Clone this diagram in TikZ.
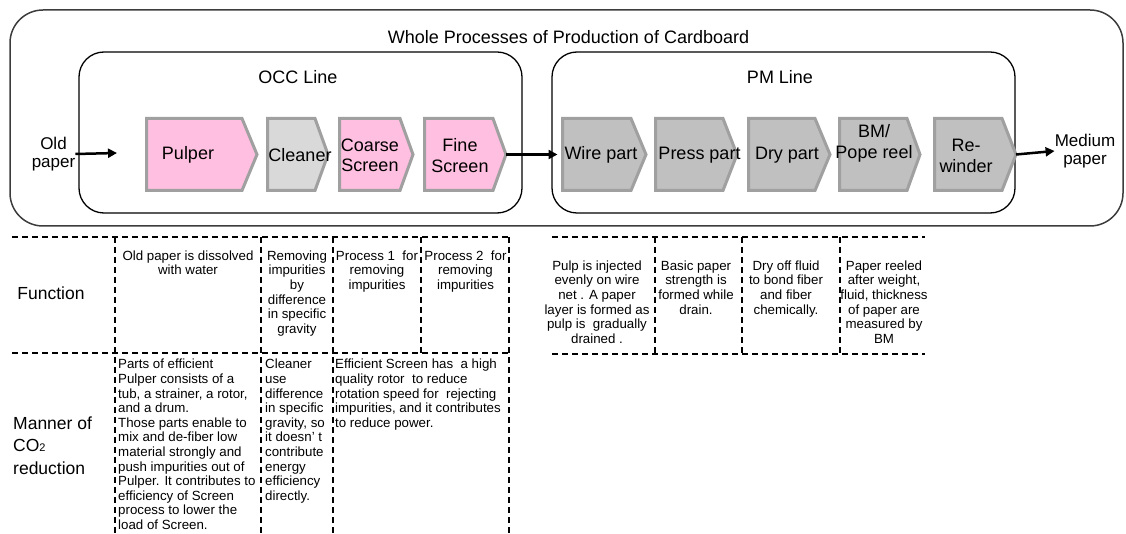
\documentclass[tikz,border=0pt]{standalone}
\usepackage{fontspec}
\setmainfont{Liberation Sans}
\usetikzlibrary{arrows.meta}
\definecolor{pinkf}{HTML}{FFBFE0}
\definecolor{lgrayf}{HTML}{D9D9D9}
\definecolor{dgrayf}{HTML}{C0C0C0}
\definecolor{bord}{HTML}{A0A0A0}
\definecolor{framec}{HTML}{3C3C3C}
% name, left, body right, tip, fill, label x, label y, label
\newcommand\chev[8]{%
  \draw[chevron,fill=#5] (#2,118.5) -- (#3,118.5) -- (#4,154.5) -- (#3,190.5) -- (#2,190.5) -- cycle;
  \coordinate (#1-l) at (#2,154.5);
  \coordinate (#1-t) at (#4,154.5);
  \node[lab] (#1) at (#6,#7) {#8};}
\begin{document}
\begin{tikzpicture}[x=1pt,y=-1pt,
  outerbox/.style={draw=framec,line width=1.5pt,rounded corners=33pt},
  linebox/.style={draw=black,line width=1.3pt,rounded corners=25pt},
  chevron/.style={draw=bord,line width=3pt,line join=miter},
  big/.style={font=\fontsize{18}{20.5}\selectfont, inner sep=0pt, align=center},
  lab/.style={big},
  side/.style={font=\fontsize{17}{18}\selectfont, inner sep=0pt, align=center},
  flow/.style={line width=2.5pt,-{Triangle[length=9pt,width=9pt]}},
  dashln/.style={line width=1.4pt,dash pattern=on 6pt off 4pt},
  cell/.style={font=\fontsize{13.3}{14.6}\selectfont, inner sep=0pt, anchor=north, align=center},
  lcell/.style={cell, align=left, anchor=north west},
  rowlab/.style={font=\fontsize{17.5}{22.5}\selectfont, inner sep=0pt, align=left}]
\useasboundingbox (0,0) rectangle (1126,534);

% containers
\draw[outerbox] (10,10) rectangle (1123,226);
\draw[linebox] (79,52) rectangle (522,213);
\draw[linebox] (552,52) rectangle (1015,213);
\node[big] (title) at (568.5,37) {Whole Processes of Production of Cardboard};
\node[big] (occ) at (298,77) {OCC Line};
\node[big] (pm) at (780,77) {PM Line};

% chevrons
\chev{pulper}{146.5}{242}{257}{pinkf}{188}{155}{Pulper}
\chev{cleaner}{267.5}{315}{328}{lgrayf}{300}{155}{Cleaner}
\chev{coarse}{339.5}{400}{413}{pinkf}{370}{155.5}{Coarse\\Screen}
\chev{fine}{424.5}{493}{506}{pinkf}{460}{155.5}{Fine\\Screen}
\chev{wire}{562.5}{631}{646}{dgrayf}{601}{155}{Wire part}
\chev{press}{655.5}{723}{737}{dgrayf}{699.5}{155}{Press part}
\chev{dry}{748.5}{815}{830}{dgrayf}{787}{155}{Dry part}
\chev{bm}{839.5}{907}{920}{dgrayf}{874}{143.5}{BM/\\Pope reel}
\chev{rw}{934.5}{1002}{1016}{dgrayf}{966}{156}{Re-\\winder}

% inputs / outputs
\node[side] (oldp) at (53.5,154) {Old\\paper};
\coordinate (occin) at (117,153);
\node[side] (medp) at (1085,151) {Medium\\paper};
\draw[flow] (oldp.east) -- (occin);
\draw[flow, shorten >=5pt] (fine-t) -- (wire-l);
\draw[flow] (rw-t) -- (medp.west);

% left table
\draw[dashln] (12,237) -- (509,237);
\draw[dashln] (12,353) -- (509,353);
\draw[dashln] (115,237) -- (115,534);
\draw[dashln] (261,237) -- (261,534);
\draw[dashln] (333,237) -- (333,534);
\draw[dashln] (421,237) -- (421,353);
\draw[dashln] (509,237) -- (509,534);

\node[rowlab] (fn) at (51,293) {Function};
\node[rowlab, anchor=west] (mn) at (13,445.5) {Manner of\\CO{\fontsize{11}{11}\selectfont 2}\\reduction};

\node[cell] (f1) at (188,250.5) {Old paper is dissolved\\with water};
\node[cell] (f2) at (297,250.5) {Removing\\impurities\\by\\difference\\in specific\\gravity};
\node[cell] (f3) at (377,250.5) {Process 1\ \ for\\removing\\impurities};
\node[cell] (f4) at (465.5,250.5) {Process 2\ \ for\\removing\\impurities};

\node[lcell] (m1) at (118,359) {Parts of efficient\\Pulper consists of a\\tub, a strainer, a rotor,\\and a drum.\\Those parts enable to\\mix and de-fiber low\\material strongly and\\push impurities out of\\Pulper. It contributes to\\efficiency of Screen\\process to lower the\\load of Screen.};
\node[lcell] (m2) at (265,359) {Cleaner\\use\\difference\\in specific\\gravity, so\\it doesn’ t\\contribute\\energy\\efficiency\\directly.};
\node[lcell] (m3) at (335,359) {Efficient Screen has\ \ a high\\quality rotor\ \ to reduce\\rotation speed for\ \ rejecting\\impurities, and it contributes\\to reduce power.};

% right table
\draw[dashln] (552,237) -- (925,237);
\draw[dashln] (552,354) -- (925,354);
\draw[dashln] (655,237) -- (655,354);
\draw[dashln] (742,237) -- (742,354);
\draw[dashln] (840,237) -- (840,354);

\node[cell] (p1) at (597,260.5) {Pulp is injected\\evenly on wire\\net . A paper\\layer is formed as\\pulp is\ \ gradually\\drained .};
\node[cell] (p2) at (696,260.5) {Basic paper\\strength is\\formed while\\drain.};
\node[cell] (p3) at (786,260.5) {Dry off fluid\\to bond fiber\\and fiber\\chemically.};
\node[cell] (p4) at (884,260.5) {Paper reeled\\after weight,\\fluid, thickness\\of paper are\\measured by\\BM};
\end{tikzpicture}
\end{document}
